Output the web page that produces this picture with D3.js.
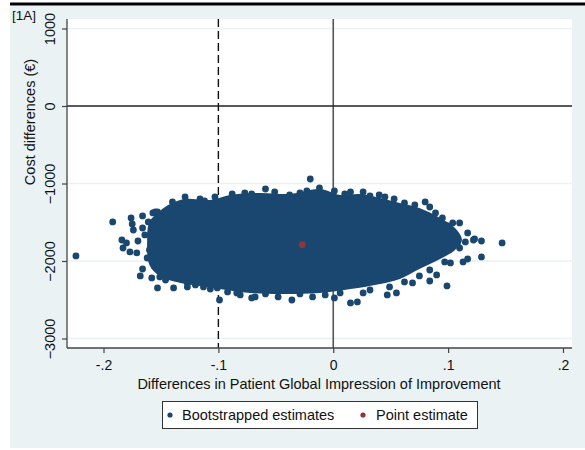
<!DOCTYPE html>
<html>
<head>
<meta charset="utf-8">
<script src="https://cdn.jsdelivr.net/npm/d3@7"></script>
<style>
  body { margin: 0; background: #fff; }
  text { font-family: "Liberation Sans", Arial, sans-serif; fill: #111; }
</style>
</head>
<body>
<div id="chart"></div>
<script>
// ~~~~~~~~ data
// bootstrapped cost / effect pairs along the edge of the cloud
let bootX = [-0.224, -0.192, -0.176, -0.175, -0.174, -0.184, -0.183, -0.180, -0.177, -0.171,
  -0.166, -0.166, -0.170, -0.164, -0.168, -0.166, -0.158, -0.153, -0.139, -0.157,
  -0.153, -0.140, -0.129, -0.112, -0.099, -0.088, -0.071, -0.151, -0.142, -0.127,
  -0.113, -0.101, -0.084, -0.071, -0.155, -0.151, -0.127, -0.020, -0.059, -0.038,
  -0.023, -0.012, 0.015, 0.026, 0.040, 0.053, 0.080, 0.084, 0.095, 0.104,
  0.110, 0.117, 0.123, 0.129, 0.147, 0.115, 0.104, 0.110, 0.129, 0.117,
  0.113, 0.102, 0.099, 0.090, 0.069, 0.055, 0.047, 0.026, 0.021, 0.015,
  -0.036, -0.048, -0.068, 0.122, 0.084, 0.001, 0.108, -0.081, -0.018,
  -0.116, -0.103, -0.077, -0.051, -0.029, 0.001, 0.010, 0.032, 0.045, 0.062,
  0.071, 0.089, 0.100, -0.146, -0.120, -0.107, -0.092, -0.059, -0.029, -0.007,
  0.006, 0.032, 0.049, 0.062, 0.075, 0.084, 0.097, -0.161, -0.160, -0.162];
let bootY = [-1935, -1496, -1445, -1522, -1600, -1729, -1832, -1767, -1883, -1896,
  -1419, -1574, -1742, -1664, -2193, -2103, -2219, -2348, -2348, -1380,
  -1367, -1238, -1174, -1226, -2503, -1135, -1135, -2206, -2180, -2283,
  -2335, -2348, -2412, -2477, -1367, -1471, -2335, -942, -1071, -1148,
  -1097, -1058, -1109, -1109, -1148, -1200, -1238, -1303, -1445, -1509,
  -1509, -1638, -1716, -1742, -1767, -1754, -1729, -1832, -1948, -1974,
  -2012, -2025, -2322, -2180, -2283, -2412, -2438, -2412, -2528, -2541,
  -2503, -2464, -2464, -1729, -2258, -2477, -1793, -2438, -2464,
  -1200, -1174, -1122, -1109, -1122, -1097, -1135, -1161, -1174, -1251,
  -1277, -1380, -1548, -2245, -2309, -2361, -2399, -2425, -2425, -2438,
  -2412, -2374, -2335, -2270, -2193, -2116, -2012, -1496, -1858, -1961];

// outline of the solid core where the estimates overlap completely
let coreX = [-0.162, -0.160, -0.151, -0.142, -0.129, -0.107, -0.090, -0.064, -0.038, -0.012,
  0.006, 0.023, 0.041, 0.058, 0.075, 0.093, 0.106, 0.112, 0.106, 0.093,
  0.075, 0.058, 0.041, 0.015, -0.012, -0.046, -0.072, -0.099, -0.116, -0.133,
  -0.151, -0.160];
let coreY = [-1729, -1496, -1355, -1264, -1200, -1213, -1148, -1122, -1135, -1071,
  -1148, -1135, -1187, -1251, -1316, -1445, -1574, -1729, -1858, -1974,
  -2103, -2232, -2296, -2361, -2412, -2425, -2412, -2361, -2322, -2283,
  -2193, -2051];

let pointX = [-0.027];
let pointY = [-1790];

let xTicks = [-0.2, -0.1, 0, 0.1, 0.2];
let xTickLabels = ['-.2', '-.1', '0', '.1', '.2'];
let yTicks = [1000, 0, -1000, -2000, -3000];
let legendLabels = ['Bootstrapped estimates', 'Point estimate'];

// ~~~~~~~~ sizes
let width = 585;
let height = 450;
let navy = '#1a476f';
let maroon = '#90353b';
let bg = '#eaf2f3';
let fontSize = '14.5px';

let svg = d3.select('#chart').append('svg')
  .attr('width', width)
  .attr('height', height);

// outer graph region + the rule on top
svg.append('rect').attr('x', 10).attr('y', 6).attr('width', 575).attr('height', 442).attr('fill', bg);
svg.append('rect').attr('x', 10).attr('y', 2.5).attr('width', 575).attr('height', 3).attr('fill', '#000');

// plot region
let pLeft = 67, pRight = 572, pTop = 19, pBottom = 348;
svg.append('rect').attr('x', pLeft).attr('y', pTop)
  .attr('width', pRight - pLeft).attr('height', pBottom - pTop).attr('fill', '#fff');

let x = d3.scaleLinear().domain([-0.2, 0.2]).range([103.5, 563]);
let y = d3.scaleLinear().domain([1000, -3000]).range([28.5, 338.5]);

// grid lines
svg.selectAll('.grid').data(yTicks.filter(d => d !== 0)).enter()
  .append('line')
  .attr('x1', pLeft).attr('x2', pRight)
  .attr('y1', d => y(d)).attr('y2', d => y(d))
  .attr('stroke', bg).attr('stroke-width', 1.5);

// reference lines (behind the markers)
svg.append('line')
  .attr('x1', x(0)).attr('x2', x(0)).attr('y1', pTop).attr('y2', pBottom)
  .attr('stroke', '#555').attr('stroke-width', 1.6);
svg.append('line')
  .attr('x1', x(-0.1)).attr('x2', x(-0.1)).attr('y1', pTop).attr('y2', pBottom)
  .attr('stroke', '#111').attr('stroke-width', 1.4).attr('stroke-dasharray', '8,4');

// solid core of the cloud
let core = coreX.map((d, i) => [x(d), y(coreY[i])]);
svg.append('path')
  .attr('d', d3.line().curve(d3.curveCatmullRomClosed)(core))
  .attr('fill', navy);

// individual bootstrapped estimates
svg.selectAll('.boot').data(bootX).enter()
  .append('circle')
  .attr('cx', d => x(d))
  .attr('cy', (d, i) => y(bootY[i]))
  .attr('r', 3.4)
  .attr('fill', navy);

// horizontal zero line sits on top
svg.append('line')
  .attr('x1', pLeft).attr('x2', pRight).attr('y1', y(0)).attr('y2', y(0))
  .attr('stroke', '#222').attr('stroke-width', 1.4);

// point estimate
svg.selectAll('.pe').data(pointX).enter()
  .append('circle')
  .attr('cx', d => x(d))
  .attr('cy', (d, i) => y(pointY[i]))
  .attr('r', 3.4)
  .attr('fill', maroon);

// axes
let xAxis = d3.axisBottom(x).tickValues(xTicks)
  .tickFormat((d, i) => xTickLabels[i]).tickSize(5).tickSizeOuter(0);
let gx = svg.append('g').attr('transform', 'translate(0,' + pBottom + ')').call(xAxis);
gx.select('.domain').attr('d', 'M' + pLeft + ',0H' + pRight).attr('stroke', '#444').attr('stroke-width', 1.3);
gx.selectAll('.tick line').attr('stroke', '#444').attr('stroke-width', 1.2);
gx.selectAll('.tick text').attr('y', 12).attr('dy', '0.71em')
  .style('font-family', '"Liberation Sans", Arial, sans-serif').style('font-size', '14px').attr('fill', '#111');

let yAxis = d3.axisLeft(y).tickValues(yTicks).tickSize(5).tickSizeOuter(0).tickFormat(d3.format('d'));
let gy = svg.append('g').attr('transform', 'translate(' + pLeft + ',0)').call(yAxis);
gy.select('.domain').attr('d', 'M0,' + pTop + 'V' + pBottom).attr('stroke', '#444').attr('stroke-width', 1.3);
gy.selectAll('.tick line').attr('stroke', '#444').attr('stroke-width', 1.2);
gy.selectAll('.tick text')
  .attr('x', null).attr('dy', null)
  .attr('text-anchor', 'middle')
  .attr('transform', 'translate(-12,0) rotate(-90)')
  .style('font-family', '"Liberation Sans", Arial, sans-serif').style('font-size', fontSize).attr('fill', '#111');

// titles
svg.append('text')
  .attr('transform', 'translate(35,122) rotate(-90)')
  .attr('text-anchor', 'middle')
  .style('font-size', fontSize)
  .text('Cost differences (€)');
svg.append('text')
  .attr('x', 319).attr('y', 388.5)
  .attr('text-anchor', 'middle')
  .style('font-size', fontSize)
  .text('Differences in Patient Global Impression of Improvement');
svg.append('text')
  .attr('x', 12).attr('y', 20)
  .style('font-size', '13.5px')
  .text('[1A]');

// legend
svg.append('rect').attr('x', 162.5).attr('y', 401.5).attr('width', 315).attr('height', 27)
  .attr('fill', '#fff').attr('stroke', '#333').attr('stroke-width', 1);
let legendX = [170, 363];
let legendColors = [navy, maroon];
let legend = svg.selectAll('.legend').data(legendLabels).enter()
  .append('g').attr('class', 'legend')
  .attr('transform', (d, i) => 'translate(' + legendX[i] + ',415)');
legend.append('circle').attr('r', 2.6).attr('fill', (d, i) => legendColors[i]);
legend.append('text').attr('x', (d, i) => i === 0 ? 12 : 13).attr('y', 5)
  .style('font-size', fontSize).text(d => d);
</script>
</body>
</html>
